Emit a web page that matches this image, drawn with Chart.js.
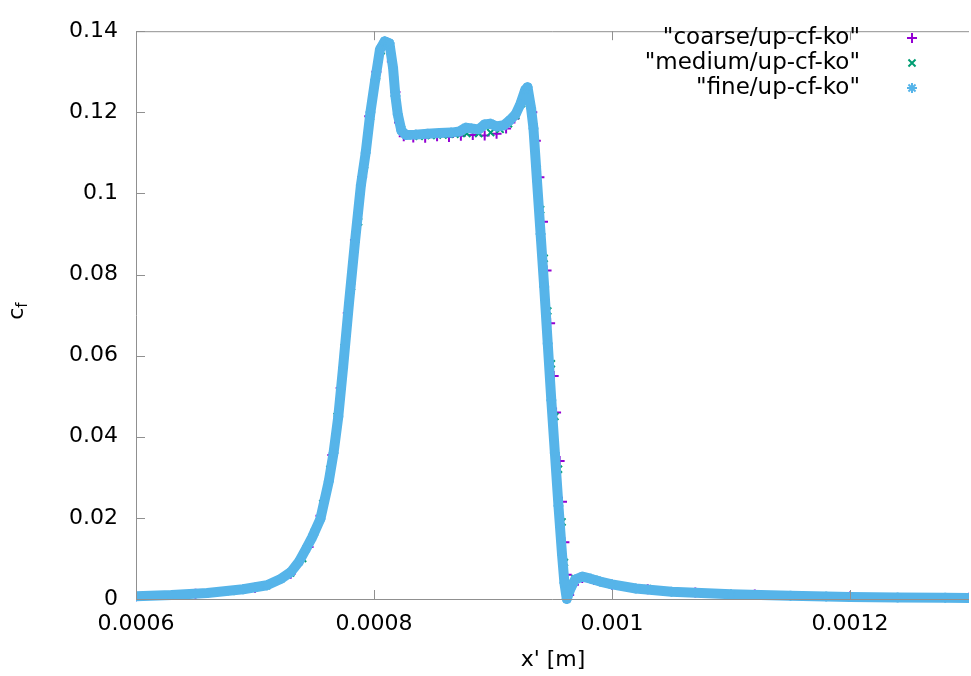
<!DOCTYPE html>
<html>
<head>
<meta charset="utf-8">
<script src="https://cdn.jsdelivr.net/npm/chart.js@4.4.0/dist/chart.umd.min.js"></script>
<style>
html, body { margin: 0; padding: 0; overflow: hidden; background: #fff; }
</style>
</head>
<body>
<canvas id="myChart" width="976" height="676"></canvas>
<script>
// values
const coarseX = [0.0006, 0.00065, 0.0007, 0.00073, 0.000745, 0.000755, 0.000765, 0.000772, 0.000778, 0.000784,
  0.00079, 0.000796, 0.000802, 0.000807, 0.000811, 0.000815, 0.000818, 0.000821, 0.000825, 0.000833,
  0.000843, 0.000853, 0.000863, 0.000873, 0.000883, 0.000893, 0.000903, 0.000911, 0.000918, 0.000924,
  0.000929, 0.000933, 0.000936, 0.000939, 0.000942, 0.000945, 0.000948, 0.000951, 0.000953, 0.000956,
  0.000958, 0.00096, 0.000962, 0.000964, 0.000968, 0.000975, 0.000985, 0.001, 0.00103, 0.00107,
  0.00112, 0.0012, 0.0013]
const coarseY = [0.0007, 0.0013, 0.0028, 0.0062, 0.0128, 0.0205, 0.0355, 0.052, 0.0705, 0.0885,
  0.104, 0.119, 0.130, 0.1365, 0.1372, 0.1325, 0.125, 0.1175, 0.1141, 0.1138,
  0.1137, 0.1141, 0.1139, 0.1142, 0.1144, 0.1143, 0.1147, 0.116, 0.1185, 0.1225,
  0.1245, 0.12, 0.113, 0.104, 0.093, 0.081, 0.068, 0.055, 0.046, 0.034,
  0.024, 0.014, 0.006, 0.001, 0.0035, 0.0052, 0.0047, 0.0035, 0.0024, 0.0016,
  0.0011, 0.0006, 0.0003]

const mediumX = [0.0006, 0.00064, 0.00068, 0.00071, 0.00073, 0.00074, 0.00075, 0.000757, 0.000763, 0.000769,
  0.000775, 0.000781, 0.000787, 0.000792, 0.000797, 0.000802, 0.000806, 0.00081, 0.000814, 0.000817,
  0.00082, 0.000823, 0.000828, 0.000838, 0.000848, 0.000858, 0.000868, 0.000878, 0.000888, 0.000898,
  0.000906, 0.000913, 0.000919, 0.000924, 0.000928, 0.000931, 0.000934, 0.000937, 0.00094, 0.000943,
  0.000946, 0.000949, 0.000952, 0.000955, 0.000958, 0.00096, 0.000962, 0.000965, 0.000969, 0.000976,
  0.000985, 0.001, 0.00103, 0.00107, 0.00112, 0.0012, 0.0013]
const mediumY = [0.0007, 0.0011, 0.0019, 0.0033, 0.0064, 0.0100, 0.0165, 0.0235, 0.0320, 0.0450,
  0.062, 0.077, 0.093, 0.107, 0.119, 0.129, 0.1352, 0.1372, 0.1355, 0.128,
  0.12, 0.1158, 0.1143, 0.1141, 0.1143, 0.1144, 0.1146, 0.1148, 0.1148, 0.1150,
  0.1158, 0.1172, 0.1192, 0.1222, 0.1255, 0.1225, 0.1165, 0.106, 0.096, 0.084,
  0.071, 0.058, 0.045, 0.032, 0.019, 0.009, 0.002, 0.003, 0.005, 0.0054,
  0.0048, 0.0036, 0.0025, 0.0016, 0.0011, 0.0006, 0.0003]

const fineX = [0.0006, 0.00063, 0.00066, 0.00069, 0.00071, 0.000722, 0.00073, 0.000737, 0.000743, 0.000748,
  0.000755, 0.000762, 0.000766, 0.00077, 0.000774, 0.000779, 0.000784, 0.000789, 0.000793, 0.000797,
  0.000801, 0.000805, 0.000809, 0.000813, 0.000816, 0.000818, 0.00082, 0.000823, 0.000827, 0.000835,
  0.000845, 0.000855, 0.000865, 0.000872, 0.000877, 0.000882, 0.000888, 0.000893, 0.000898, 0.000903,
  0.000909, 0.000914, 0.000919, 0.000923, 0.000927, 0.000929, 0.000932, 0.000934, 0.000937, 0.00094,
  0.000943, 0.000946, 0.000949, 0.000952, 0.000955, 0.000958, 0.00096, 0.000962, 0.000965, 0.000969,
  0.000975, 0.000982, 0.00099, 0.001, 0.00102, 0.00105, 0.0011, 0.00115, 0.00118, 0.0012,
  0.00124, 0.00128, 0.0013]
const fineY = [0.0007, 0.0010, 0.0015, 0.0024, 0.0034, 0.0050, 0.0066, 0.0092, 0.0124, 0.0152,
  0.0198, 0.0290, 0.0360, 0.045, 0.057, 0.073, 0.088, 0.102, 0.110, 0.120,
  0.128, 0.1355, 0.1375, 0.137, 0.131, 0.124, 0.1195, 0.1155, 0.1144, 0.1145,
  0.1147, 0.1149, 0.1150, 0.1153, 0.1162, 0.1160, 0.1158, 0.1170, 0.1172, 0.1165,
  0.1168, 0.1180, 0.1195, 0.122, 0.1255, 0.1262, 0.121, 0.116, 0.103, 0.090,
  0.077, 0.063, 0.049, 0.036, 0.023, 0.011, 0.004, 0.0, 0.0025, 0.0048,
  0.0055, 0.005, 0.0043, 0.0036, 0.0026, 0.0018, 0.0012, 0.0008, 0.0006, 0.0005,
  0.0004, 0.0003, 0.00025]

const seriesNames = ['"coarse/up-cf-ko"', '"medium/up-cf-ko"', '"fine/up-cf-ko"']
const seriesColors = ['#9400d3', '#009e73', '#56b4e9']
const xTickValues = [0.0006, 0.0008, 0.001, 0.0012]
const xTickLabels = ['0.0006', '0.0008', '0.001', '0.0012']
const yTickValues = [0, 0.02, 0.04, 0.06, 0.08, 0.1, 0.12, 0.14]
const yTickLabels = ['0', '0.02', '0.04', '0.06', '0.08', '0.1', '0.12', '0.14']

const FONT = 'DejaVu Sans'
const toPoints = (xs, ys) => xs.map((x, i) => ({x: x, y: ys[i]}))

// frame, inward ticks, legend and axis titles like gnuplot
const gnuplotDecor = {
  id: 'gnuplotDecor',
  afterDatasetsDraw(chart) {
    const ctx = chart.ctx
    const a = chart.chartArea
    const xs = chart.scales.x, ys = chart.scales.y
    ctx.save()
    ctx.strokeStyle = '#909090'
    ctx.lineWidth = 1
    ctx.beginPath()
    ctx.moveTo(a.right, a.top + 0.5)
    ctx.lineTo(a.left + 0.5, a.top + 0.5)
    ctx.lineTo(a.left + 0.5, a.bottom + 0.5)
    ctx.lineTo(a.right, a.bottom + 0.5)
    xTickValues.forEach(v => {
      const px = Math.round(xs.getPixelForValue(v)) + 0.5
      ctx.moveTo(px, a.bottom); ctx.lineTo(px, a.bottom - 9)
      ctx.moveTo(px, a.top); ctx.lineTo(px, a.top + 9)
    })
    yTickValues.forEach(v => {
      const py = Math.round(ys.getPixelForValue(v)) + 0.5
      ctx.moveTo(a.left, py); ctx.lineTo(a.left + 9, py)
    })
    ctx.stroke()
    ctx.restore()
  },
  afterDraw(chart) {
    const ctx = chart.ctx
    const a = chart.chartArea
    ctx.save()
    ctx.fillStyle = '#000'
    ctx.textBaseline = 'middle'
    // legend: text right aligned, sample on the right
    seriesNames.forEach((name, i) => {
      const y = 38 + i * 25
      ctx.font = '23px "' + FONT + '"'
      ctx.textAlign = 'right'
      ctx.fillText(name, 860, y)
      const ds = chart.data.datasets[i]
      ctx.strokeStyle = seriesColors[i]
      ctx.lineWidth = 2
      Chart.helpers.drawPoint(ctx, {pointStyle: ds.pointStyle, radius: 5, rotation: 0, borderWidth: 2}, 912, y)
    })
    // x title
    ctx.font = '22px "' + FONT + '"'
    ctx.textAlign = 'center'
    ctx.fillText("x' [m]", 553, 660)
    // y title c_f, rotated
    ctx.translate(17, (a.top + a.bottom) / 2 - 4)
    ctx.rotate(-Math.PI / 2)
    ctx.textAlign = 'left'
    ctx.font = '22px "' + FONT + '"'
    const cw = ctx.measureText('c').width
    ctx.font = '15px "' + FONT + '"'
    const fw = ctx.measureText('f').width
    const x0 = -(cw + fw) / 2
    ctx.font = '22px "' + FONT + '"'
    ctx.fillText('c', x0, 0)
    ctx.font = '15px "' + FONT + '"'
    ctx.fillText('f', x0 + cw, 6)
    ctx.restore()
  }
}

var ctx = document.getElementById('myChart').getContext('2d');
var myChart = new Chart(ctx, {
  type: 'scatter',
  data: {
    datasets: [
      {
        label: seriesNames[0],
        data: toPoints(coarseX, coarseY),
        pointStyle: 'cross',
        pointRadius: 5,
        pointBorderWidth: 2,
        borderColor: seriesColors[0],
        backgroundColor: seriesColors[0],
        showLine: false,
        clip: {left: 0, top: 0, right: 0, bottom: 8},
        order: 3
      },
      {
        label: seriesNames[1],
        data: toPoints(mediumX, mediumY),
        pointStyle: 'crossRot',
        pointRadius: 5,
        pointBorderWidth: 2,
        borderColor: seriesColors[1],
        backgroundColor: seriesColors[1],
        showLine: false,
        clip: {left: 0, top: 0, right: 0, bottom: 8},
        order: 2
      },
      {
        label: seriesNames[2],
        data: toPoints(fineX, fineY),
        pointStyle: 'star',
        pointRadius: 5,
        pointBorderWidth: 2,
        borderColor: seriesColors[2],
        pointBorderColor: seriesColors[2],
        backgroundColor: seriesColors[2],
        showLine: true,
        borderWidth: 10,
        borderJoinStyle: 'round',
        borderCapStyle: 'round',
        tension: 0,
        clip: {left: 0, top: 0, right: 0, bottom: 8},
        order: 1
      }
    ]
  },
  options: {
    responsive: false,
    animation: false,
    devicePixelRatio: 1,
    layout: {padding: {top: 19, right: 0, left: 0, bottom: 0}},
    plugins: {
      legend: {display: false},
      tooltip: {enabled: false}
    },
    scales: {
      x: {
        type: 'linear',
        min: 0.0006,
        max: 0.0013,
        grid: {display: false, drawTicks: false},
        border: {display: false},
        afterFit: s => { s.height = 77 },
        afterBuildTicks: s => { s.ticks = xTickValues.map(v => ({value: v})) },
        ticks: {
          color: '#000',
          font: {family: FONT, size: 22},
          padding: 12,
          maxRotation: 0,
          autoSkip: false,
          callback: v => xTickLabels[xTickValues.indexOf(v)]
        }
      },
      y: {
        type: 'linear',
        min: 0,
        max: 0.14,
        grid: {display: false, drawTicks: false},
        border: {display: false},
        afterFit: s => { s.width = 136 },
        afterBuildTicks: s => { s.ticks = yTickValues.map(v => ({value: v})) },
        ticks: {
          color: '#000',
          font: {family: FONT, size: 22},
          padding: 18,
          autoSkip: false,
          callback: v => yTickLabels[yTickValues.indexOf(v)]
        }
      }
    }
  },
  plugins: [gnuplotDecor]
});
</script>
</body>
</html>
